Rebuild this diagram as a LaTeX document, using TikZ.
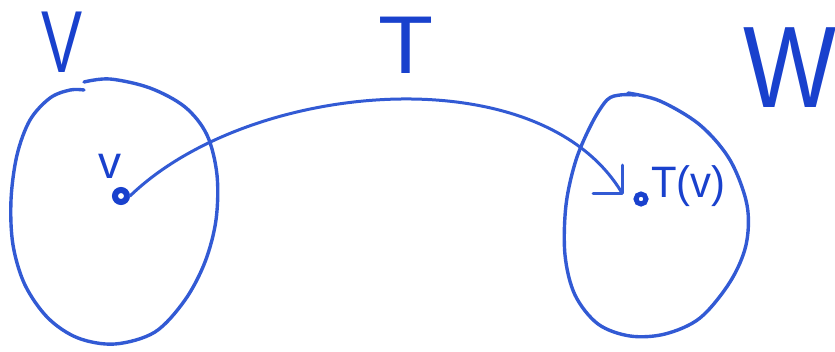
\documentclass[tikz,border=0pt]{standalone}
\usepackage{fontspec}
\setmainfont{Liberation Sans}
\definecolor{handblue}{RGB}{50,90,212}
\definecolor{inkblue}{RGB}{25,65,205}
\begin{document}
\begin{tikzpicture}[x=1pt,y=-1pt,
  stroke/.style={draw=handblue,line width=3.4pt,line cap=round,line join=round},
  lbl/.style={text=inkblue,inner sep=0pt,outer sep=0pt},
  dotnode/.style={draw=inkblue,circle,inner sep=0pt}]
\useasboundingbox (0,0) rectangle (835,351);

% set V
\draw[stroke] plot[smooth,tension=0.55] coordinates {(84,82) (110,79) (150,88) (185,107) (207,135) (217,175) (216,220) (205,262) (185,300) (155,332) (115,344) (78,338) (48,318) (25,285) (13,245) (11,200) (17,155) (30,120) (50,98) (70,90) (84,90)};

% set W
\draw[stroke] plot[smooth,tension=0.55] coordinates {(628,93) (660,101) (700,125) (730,160) (747,205) (746,245) (730,282) (700,318) (665,334) (630,336) (598,324) (575,295) (565,255) (566,205) (576,160) (592,123) (607,100) (620,95) (636,95)};

% labels
\node[lbl,font=\fontsize{88}{88}\selectfont,xscale=0.7] (Vlab) at (62,42) {V};
\node[lbl,font=\fontsize{82}{82}\selectfont,xscale=1.1] (Tlab) at (406,45) {T};
\node[lbl,font=\fontsize{116}{116}\selectfont,xscale=0.85] (Wlab) at (790,68) {W};

% points
\node[dotnode,line width=6pt,minimum size=12pt] (vdot) at (121,196) {};
\node[dotnode,line width=5pt,minimum size=10pt] (tvdot) at (641,199) {};
\node[lbl,font=\fontsize{46}{46}\selectfont] (vlab) at (110,166) {v};
\node[lbl,font=\fontsize{44}{44}\selectfont,anchor=west,xscale=0.95] (tvlab) at (651,186) {T(v)};

% map T
\coordinate (tip) at (622,193);
\draw[stroke,line width=3pt] (vdot.east) .. controls (250,80) and (540,55) .. (tip);
\draw[stroke,line width=3pt] (tip) -- ++(-29,0);
\draw[stroke,line width=3pt] (tip) -- ++(0,-28);
\end{tikzpicture}
\end{document}
